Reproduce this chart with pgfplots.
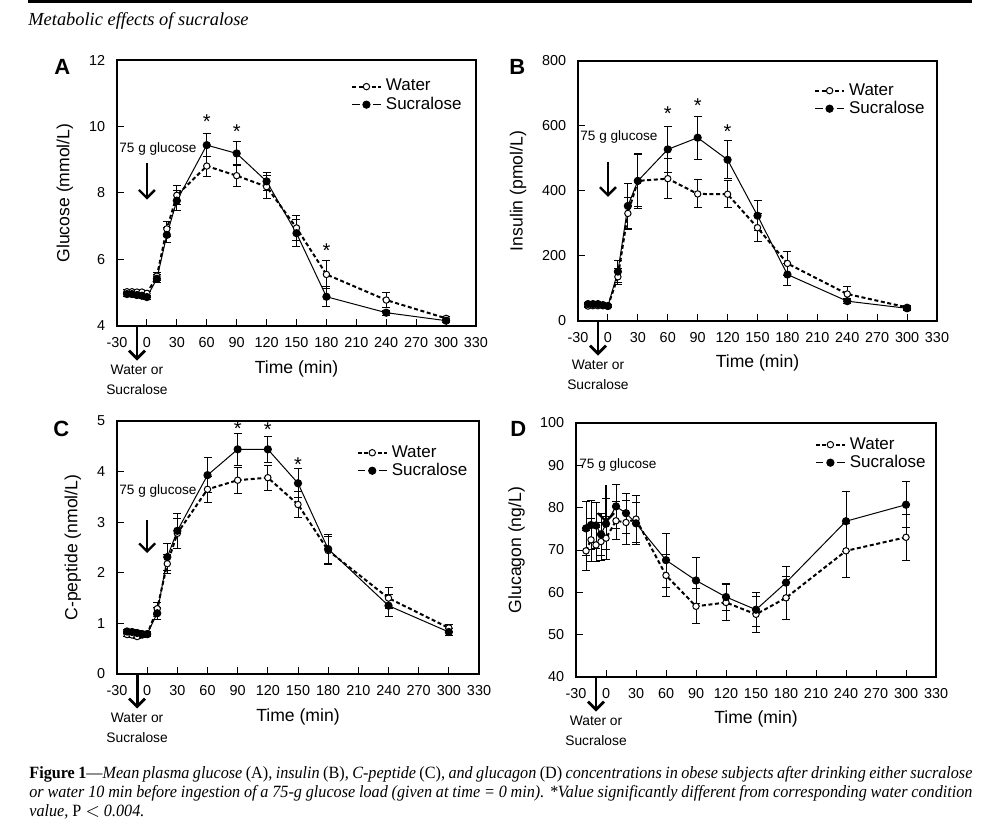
\documentclass[border=0pt]{standalone}
\usepackage{pgfplots}
\pgfplotsset{compat=1.18}
\usepackage{fontspec}
\setmainfont{Liberation Sans}
\newfontfamily\capserif[FakeStretch=0.94]{Liberation Serif}
\newfontfamily\headserif{Liberation Serif}
\usetikzlibrary{arrows.meta}

\pgfplotsset{
  panel/.style={
    scale only axis, clip=false,
    xmin=-30, xmax=330, xtick={-30,0,...,330},
    xtick pos=bottom, ytick pos=left, tick align=inside,
    major tick length=3.5pt,
    axis line style={line width=0.6pt},
    every tick/.style={black, line width=0.5pt},
    tick label style={font=\fontsize{7.2}{8}\selectfont},
    /pgf/number format/assume math mode=true,
    xticklabel style={yshift=-2.4pt},
    yticklabel style={xshift=-2.4pt},
    xlabel={Time (min)},
    label style={font=\fontsize{8.8}{10}\selectfont},
    legend style={draw=none, fill=none, inner sep=0pt, anchor=north east,
      font=\fontsize{8.5}{9.5}\selectfont, row sep=-2.5pt},
    legend cell align=left,
  },
  water/.style={black, line width=1pt, dash pattern=on 2pt off 1.3pt,
    mark=*, mark size=1.6pt, mark options={solid, fill=white, line width=0.5pt},
    error bars/y dir=both, error bars/y explicit,
    error bars/error bar style={solid, line width=0.5pt},
    error bars/error mark options={rotate=90, solid, mark size=2pt, line width=0.5pt},
    legend image code/.code={
      \draw[##1, mark=none] (0pt,0pt) -- (14.5pt,0pt);
      \draw[##1] plot coordinates {(7.25pt,0pt)};}},
  sucra/.style={black, line width=0.5pt, solid,
    mark=*, mark size=1.8pt, mark options={fill=black},
    error bars/y dir=both, error bars/y explicit,
    error bars/error bar style={line width=0.5pt},
    error bars/error mark options={rotate=90, mark size=2pt, line width=0.5pt},
    legend image code/.code={
      \draw[##1, mark=none] (0pt,0pt) -- (3.8pt,0pt);
      \draw[##1, mark=none] (10.7pt,0pt) -- (14.5pt,0pt);
      \draw[##1] plot coordinates {(7.25pt,0pt)};}},
}
\tikzset{
  note/.style={font=\fontsize{6.8}{8}\selectfont, inner sep=0pt},
  star/.style={font=\fontsize{10}{10}\selectfont, inner sep=0pt, anchor=north},
  dose/.style={line width=1.2pt, -{Straight Barb[length=4pt,width=8pt]}},
}

\newcommand{\drinkarrow}[1]{%
  \draw[line width=1.4pt, -{Straight Barb[length=4pt,width=8pt]}] (axis cs:-10,#1) -- ++(0pt,-17.3pt);
  \path (axis cs:-10,#1) ++(0pt,-27pt) node[font=\fontsize{6.9}{10}\selectfont, align=center] {Water or\\Sucralose};}

\begin{document}
\begin{tikzpicture}
\path[use as bounding box] (0,0) rectangle (500pt,414pt);
\fill[black] (14pt,412.4pt) rectangle (486pt,414pt);
\node[anchor=base west, inner sep=0pt, font=\headserif\itshape\fontsize{9.2}{10}\selectfont] at (14pt,401pt) {Metabolic effects of sucralose};

% panel letters
\node[anchor=base west, inner sep=0pt, font=\bfseries\fontsize{11}{12}\selectfont] at (27pt,376.5pt) {A};
\node[anchor=base west, inner sep=0pt, font=\bfseries\fontsize{11}{12}\selectfont] at (254.5pt,376.5pt) {B};
\node[anchor=base west, inner sep=0pt, font=\bfseries\fontsize{11}{12}\selectfont] at (26.5pt,195.7pt) {C};
\node[anchor=base west, inner sep=0pt, font=\bfseries\fontsize{11}{12}\selectfont] at (255pt,195.5pt) {D};

% ---------- A: glucose ----------
\begin{axis}[panel, at={(58.5pt,251pt)}, anchor=south west,
  width=179.5pt, height=133pt,
  ymin=4, ymax=12, ytick={4,6,...,12},
  ylabel={Glucose (mmol/L)},
  ylabel style={at={(axis description cs:-0.145,0.5)}, anchor=center},
  xlabel style={at={(axis description cs:0.5,-0.162)}, anchor=center},
  legend style={at={(0.972,0.944)}}]
\addplot[water] coordinates {
  (-20,5.03) +- (0,0.06) (-15,5.03) +- (0,0.06) (-10,5.02) +- (0,0.06)
  (-5,5.02) +- (0,0.06) (0,4.98) +- (0,0.06) (10,5.50) +- (0,0.12)
  (20,6.92) +- (0,0.22) (30,7.93) +- (0,0.29) (60,8.81) +- (0,0.30)
  (90,8.52) +- (0,0.33) (120,8.19) +- (0,0.35) (150,6.95) +- (0,0.38)
  (180,5.55) +- (0,0.41) (240,4.78) +- (0,0.23) (300,4.23) +- (0,0.06)};
\addplot[sucra] coordinates {
  (-20,4.96) +- (0,0.06) (-15,4.96) +- (0,0.06) (-10,4.93) +- (0,0.06)
  (-5,4.91) +- (0,0.06) (0,4.87) +- (0,0.06) (10,5.42) +- (0,0.12)
  (20,6.74) +- (0,0.22) (30,7.77) +- (0,0.31) (60,9.44) +- (0,0.35)
  (90,9.19) +- (0,0.35) (120,8.35) +- (0,0.26) (150,6.79) +- (0,0.40)
  (180,4.88) +- (0,0.30) (240,4.40) +- (0,0.08) (300,4.16) +- (0,0.05)};
\legend{Water, Sucralose}
\node[star] at (axis cs:60,10.38) {*};
\node[star] at (axis cs:90,10.06) {*};
\node[star] at (axis cs:180,6.50) {*};
\node[note, anchor=west] at (axis cs:-28,9.32) {75 g glucose};
\draw[dose] (axis cs:0,8.9) -- (axis cs:0,7.8);
\drinkarrow{4}
\end{axis}

% ---------- B: insulin ----------
\begin{axis}[panel, at={(289pt,253.5pt)}, anchor=south west,
  width=179.5pt, height=130pt,
  ymin=0, ymax=800, ytick={0,200,...,800},
  ylabel={Insulin (pmol/L)},
  ylabel style={at={(axis description cs:-0.167,0.5)}, anchor=center},
  xlabel style={at={(axis description cs:0.5,-0.16)}, anchor=center},
  legend style={at={(0.978,0.931)}}]
\addplot[water] coordinates {
  (-20,46) +- (0,6) (-15,47) +- (0,6) (-10,47) +- (0,6)
  (-5,47) +- (0,6) (0,46) +- (0,6) (10,136) +- (0,25)
  (20,331) +- (0,50) (30,431) +- (0,80) (60,438) +- (0,62)
  (90,391) +- (0,43) (120,390) +- (0,42) (150,287) +- (0,43)
  (180,177) +- (0,38) (240,83) +- (0,22) (300,42) +- (0,6)};
\addplot[sucra] coordinates {
  (-20,52) +- (0,6) (-15,52) +- (0,6) (-10,52) +- (0,6)
  (-5,49) +- (0,6) (0,46) +- (0,6) (10,152) +- (0,35)
  (20,354) +- (0,70) (30,431) +- (0,84) (60,528) +- (0,71)
  (90,564) +- (0,66) (120,496) +- (0,58) (150,324) +- (0,46)
  (180,143) +- (0,35) (240,61) +- (0,8) (300,39) +- (0,6)};
\legend{Water, Sucralose}
\node[star] at (axis cs:60,660) {*};
\node[star] at (axis cs:90,686) {*};
\node[star] at (axis cs:120,605) {*};
\node[note, anchor=west] at (axis cs:-28,566) {75 g glucose};
\draw[dose] (axis cs:0,490) -- (axis cs:0,382);
\drinkarrow{0}
\end{axis}

% ---------- C: C-peptide ----------
\begin{axis}[panel, at={(58.5pt,77pt)}, anchor=south west,
  width=181pt, height=126.5pt,
  ymin=0, ymax=5, ytick={0,1,...,5},
  ylabel={C-peptide (nmol/L)},
  ylabel style={at={(axis description cs:-0.122,0.5)}, anchor=center},
  xlabel style={at={(axis description cs:0.5,-0.17)}, anchor=center},
  legend style={at={(0.98,0.921)}}]
\addplot[water] coordinates {
  (-20,0.78) +- (0,0.04) (-15,0.77) +- (0,0.04) (-10,0.74) +- (0,0.04)
  (-5,0.77) +- (0,0.04) (0,0.78) +- (0,0.04) (10,1.29) +- (0,0.12)
  (20,2.18) +- (0,0.19) (30,2.78) +- (0,0.30) (60,3.65) +- (0,0.26)
  (90,3.83) +- (0,0.26) (120,3.88) +- (0,0.25) (150,3.35) +- (0,0.25)
  (180,2.44) +- (0,0.28) (240,1.50) +- (0,0.21) (300,0.91) +- (0,0.07)};
\addplot[sucra] coordinates {
  (-20,0.84) +- (0,0.04) (-15,0.83) +- (0,0.04) (-10,0.81) +- (0,0.04)
  (-5,0.79) +- (0,0.04) (0,0.79) +- (0,0.04) (10,1.20) +- (0,0.12)
  (20,2.31) +- (0,0.27) (30,2.83) +- (0,0.34) (60,3.93) +- (0,0.34)
  (90,4.44) +- (0,0.32) (120,4.44) +- (0,0.26) (150,3.77) +- (0,0.29)
  (180,2.47) +- (0,0.28) (240,1.35) +- (0,0.22) (300,0.83) +- (0,0.07)};
\legend{Water, Sucralose}
\node[star] at (axis cs:90,4.99) {*};
\node[star] at (axis cs:120,4.97) {*};
\node[star] at (axis cs:150,4.28) {*};
\node[note, anchor=west] at (axis cs:-28,3.61) {75 g glucose};
\draw[dose] (axis cs:0,3.04) -- (axis cs:0,2.39);
\drinkarrow{0}
\end{axis}

% ---------- D: glucagon ----------
\begin{axis}[panel, at={(288pt,75.5pt)}, anchor=south west,
  width=180pt, height=127pt,
  ymin=40, ymax=100, ytick={40,50,...,100},
  ylabel={Glucagon (ng/L)},
  ylabel style={at={(axis description cs:-0.165,0.5)}, anchor=center},
  xlabel style={at={(axis description cs:0.5,-0.165)}, anchor=center},
  legend style={at={(0.983,0.961)}}]
\addplot[water] coordinates {
  (-20,69.8) +- (0,4.7) (-15,72.4) +- (0,5.0) (-10,71.2) +- (0,4.0)
  (-5,72.0) +- (0,4.5) (0,72.8) +- (0,5.0) (10,76.9) +- (0,4.5)
  (20,76.5) +- (0,5.3) (30,77.3) +- (0,5.5) (60,64.0) +- (0,5.0)
  (90,56.7) +- (0,4.1) (120,57.6) +- (0,4.3) (150,54.8) +- (0,4.3)
  (180,58.7) +- (0,5.1) (240,69.8) +- (0,6.4) (300,73.0) +- (0,5.4)};
\addplot[sucra] coordinates {
  (-20,75.1) +- (0,6.3) (-15,75.9) +- (0,5.8) (-10,75.8) +- (0,5.5)
  (-5,73.7) +- (0,5.0) (0,76.2) +- (0,6.0) (10,80.3) +- (0,5.2)
  (20,78.7) +- (0,4.7) (30,76.3) +- (0,5.0) (60,67.6) +- (0,6.4)
  (90,62.8) +- (0,5.5) (120,58.9) +- (0,3.2) (150,55.9) +- (0,4.0)
  (180,62.3) +- (0,3.8) (240,76.8) +- (0,7.1) (300,80.7) +- (0,5.4)};
\legend{Water, Sucralose}
\node[note, anchor=west] at (axis cs:-27,90.1) {75 g glucose};
\draw[dose] (axis cs:0,85.4) -- (axis cs:0,76.4);
\drinkarrow{40}
\end{axis}

% caption
\node[anchor=base west, inner sep=0pt, font=\capserif\fontsize{8.6}{9}\selectfont] at (14.5pt,24.5pt)
  {\makebox[471.5pt][s]{\textbf{Figure 1}\textemdash\textit{Mean plasma glucose} (A)\textit{, insulin} (B)\textit{, C-peptide} (C)\textit{, and glucagon} (D) \textit{concentrations in obese subjects after drinking either sucralose}}};
\node[anchor=base west, inner sep=0pt, font=\capserif\itshape\fontsize{8.6}{9}\selectfont] at (14.5pt,15.15pt)
  {\makebox[471.5pt][s]{or water 10 min before ingestion of a 75-g glucose load (given at time = 0 min). *Value significantly different from corresponding water condition}};
\node[anchor=base west, inner sep=0pt, font=\capserif\itshape\fontsize{8.6}{9}\selectfont] at (14.5pt,5.65pt)
  {value, \textup{P} $<$ 0.004.};
\end{tikzpicture}
\end{document}
